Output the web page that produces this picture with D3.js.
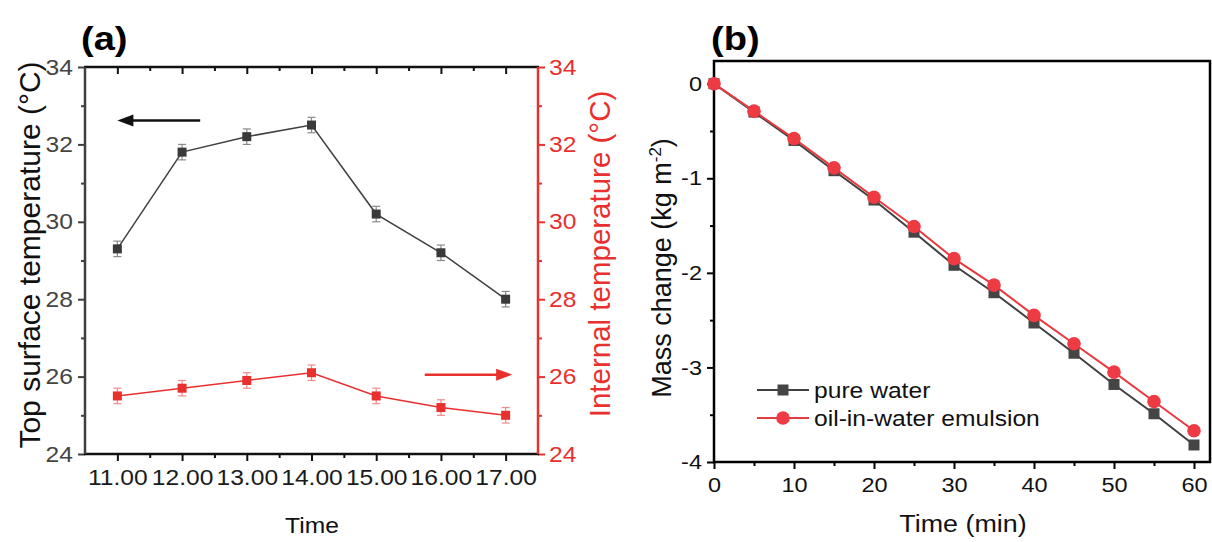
<!DOCTYPE html>
<html>
<head>
<meta charset="utf-8">
<script src="https://cdn.jsdelivr.net/npm/d3@7"></script>
<style>
  body { margin: 0; background: #fff; }
  svg { display: block; font-family: "Liberation Sans", Arial, sans-serif; }
</style>
</head>
<body>
<svg id="chart" width="1212" height="542"></svg>
<script>
// ---- panel (a): temperatures over the day ----
const hours = [11, 12, 13, 14, 15, 16, 17]
const surfaceTemp = [29.3, 31.8, 32.2, 32.5, 30.2, 29.2, 28.0]
const surfaceErr = [0.2, 0.2, 0.2, 0.2, 0.2, 0.2, 0.2]
const internalTemp = [25.5, 25.7, 25.9, 26.1, 25.5, 25.2, 25.0]
const internalErr = [0.2, 0.2, 0.2, 0.2, 0.2, 0.2, 0.2]
const tempTicks = [24, 26, 28, 30, 32, 34]
const tempMinor = [25, 27, 29, 31, 33]
const hourMinor = [11.5, 12.5, 13.5, 14.5, 15.5, 16.5]

// ---- panel (b): mass change ----
const minutes = [0, 5, 10, 15, 20, 25, 30, 35, 40, 45, 50, 55, 60]
const pureWater = [0, -0.30, -0.60, -0.92, -1.23, -1.57, -1.92, -2.21, -2.53, -2.85, -3.18, -3.49, -3.82]
const emulsion = [0, -0.29, -0.58, -0.89, -1.20, -1.51, -1.85, -2.13, -2.45, -2.75, -3.05, -3.36, -3.67]
const seriesNames = ['pure water', 'oil-in-water emulsion']
const minuteTicks = [0, 10, 20, 30, 40, 50, 60]
const minuteMinor = [5, 15, 25, 35, 45, 55]
const massTicks = [0, -1, -2, -3, -4]
const massMinor = [-0.5, -1.5, -2.5, -3.5]

const RED = '#e8302f'
const DARK = '#3f3f3f'
const SX = 1.12 // the figure's lettering is a bit wide
const svg = d3.select('#chart')

function styleAxis (g, color, textColor, fontSize) {
  g.select('.domain').remove()
  g.selectAll('line').attr('stroke', color).attr('stroke-width', 2)
  g.selectAll('text')
    .attr('fill', textColor)
    .style('font-size', fontSize + 'px')
    .attr('x', function () { return (+this.getAttribute('x') || 0) / SX })
    .attr('transform', `scale(${SX},1)`)
}

function wideText (g, x, y, size) {
  return g.append('text')
    .attr('transform', `translate(${x},${y}) scale(${SX},1)`)
    .style('font-size', size + 'px')
}

function errorBars (g, xs, ys, errs, x, y, color) {
  const bars = g.append('g').attr('stroke', color).attr('stroke-width', 1.2)
  xs.forEach((v, i) => {
    const cx = x(v)
    bars.append('line')
      .attr('x1', cx).attr('x2', cx)
      .attr('y1', y(ys[i] - errs[i])).attr('y2', y(ys[i] + errs[i]))
    ;[ys[i] - errs[i], ys[i] + errs[i]].forEach(e => {
      bars.append('line')
        .attr('x1', cx - 4).attr('x2', cx + 4)
        .attr('y1', y(e)).attr('y2', y(e))
    })
  })
}

function arrow (g, xa, xb, yy, color) {
  // line from xa to xb with head at xb
  const dir = Math.sign(xb - xa)
  const head = 16
  g.append('line')
    .attr('x1', xa).attr('x2', xb - dir * head + dir * 2)
    .attr('y1', yy).attr('y2', yy)
    .attr('stroke', color).attr('stroke-width', 2.5)
  g.append('path')
    .attr('d', `M${xb},${yy} L${xb - dir * head},${yy - 6} L${xb - dir * head},${yy + 6} Z`)
    .attr('fill', color)
}

// ================= panel (a) =================
{
  const x = d3.scaleLinear([10.5, 17.5], [85, 538])
  const yL = d3.scaleLinear([24, 34], [454, 67])
  const yR = d3.scaleLinear([24, 34], [454, 67])
  const g = svg.append('g')

  // minor ticks
  g.append('g').attr('transform', 'translate(0,454)')
    .call(d3.axisBottom(x).tickValues(hourMinor).tickSize(4).tickFormat(''))
    .call(a => styleAxis(a, '#111', '#111', 0))
  g.append('g').attr('transform', 'translate(0,67)')
    .call(d3.axisTop(x).tickValues(hourMinor).tickSize(-4).tickFormat(''))
    .call(a => styleAxis(a, '#111', '#111', 0))
  g.append('g').attr('transform', 'translate(85,0)')
    .call(d3.axisLeft(yL).tickValues(tempMinor).tickSize(4).tickFormat(''))
    .call(a => styleAxis(a, DARK, DARK, 0))
  g.append('g').attr('transform', 'translate(538,0)')
    .call(d3.axisRight(yR).tickValues(tempMinor).tickSize(4).tickFormat(''))
    .call(a => styleAxis(a, RED, RED, 0))

  // major ticks
  g.append('g').attr('transform', 'translate(0,454)')
    .call(d3.axisBottom(x).tickValues(hours).tickSize(7).tickPadding(8).tickFormat(d => d.toFixed(2)))
    .call(a => styleAxis(a, '#111', '#1a1a1a', 22))
  g.append('g').attr('transform', 'translate(0,67)')
    .call(d3.axisTop(x).tickValues(hours).tickSize(-7).tickFormat(''))
    .call(a => styleAxis(a, '#111', '#111', 0))
  g.append('g').attr('transform', 'translate(85,0)')
    .call(d3.axisLeft(yL).tickValues(tempTicks).tickSize(7).tickPadding(5))
    .call(a => styleAxis(a, DARK, '#444', 22))
  g.append('g').attr('transform', 'translate(538,0)')
    .call(d3.axisRight(yR).tickValues(tempTicks).tickSize(7).tickPadding(4))
    .call(a => styleAxis(a, RED, RED, 22))

  // frame
  g.append('line').attr('x1', 84).attr('x2', 539).attr('y1', 454).attr('y2', 454).attr('stroke', '#111').attr('stroke-width', 2.5)
  g.append('line').attr('x1', 84).attr('x2', 539).attr('y1', 67).attr('y2', 67).attr('stroke', '#111').attr('stroke-width', 2.5)
  g.append('line').attr('x1', 85).attr('x2', 85).attr('y1', 67).attr('y2', 454).attr('stroke', DARK).attr('stroke-width', 2.5)
  g.append('line').attr('x1', 538).attr('x2', 538).attr('y1', 67).attr('y2', 454).attr('stroke', RED).attr('stroke-width', 2.5)

  // surface series
  const lineL = d3.line().x((d, i) => x(hours[i])).y(d => yL(d))
  g.append('path').datum(surfaceTemp).attr('d', lineL)
    .attr('fill', 'none').attr('stroke', '#404040').attr('stroke-width', 1.5)
  errorBars(g, hours, surfaceTemp, surfaceErr, x, yL, '#8a8a8a')
  g.append('g').selectAll('rect').data(surfaceTemp).join('rect')
    .attr('x', (d, i) => x(hours[i]) - 4.5).attr('y', d => yL(d) - 4.5)
    .attr('width', 9).attr('height', 9).attr('fill', '#3a3a3a')

  // internal series
  const lineR = d3.line().x((d, i) => x(hours[i])).y(d => yR(d))
  g.append('path').datum(internalTemp).attr('d', lineR)
    .attr('fill', 'none').attr('stroke', RED).attr('stroke-width', 1.5)
  errorBars(g, hours, internalTemp, internalErr, x, yR, '#f08a8a')
  g.append('g').selectAll('rect').data(internalTemp).join('rect')
    .attr('x', (d, i) => x(hours[i]) - 4.5).attr('y', d => yR(d) - 4.5)
    .attr('width', 9).attr('height', 9).attr('fill', RED)

  // arrows telling which axis belongs to which curve
  arrow(g, x(12.28), x(11.0), yL(32.62), '#111')
  arrow(g, x(15.75), x(17.1), yR(26.05), RED)

  // titles
  wideText(g, 81, 50, 34).style('font-weight', 'bold').text('(a)')
  g.append('text').attr('transform', 'translate(40,255) rotate(-90)')
    .attr('text-anchor', 'middle').style('font-size', '30px').attr('fill', '#111')
    .text('Top surface temperature (°C)')
  g.append('text').attr('transform', 'translate(610,254) rotate(-90)')
    .attr('text-anchor', 'middle').style('font-size', '29.5px').attr('fill', RED)
    .text('Internal temperature (°C)')
  wideText(g, 312, 533, 22).attr('text-anchor', 'middle').attr('fill', '#111').text('Time')
}

// ================= panel (b) =================
{
  const x = d3.scaleLinear([0, 62], [714, 1210])
  const y = d3.scaleLinear([-4, 0.24], [462, 61])
  const g = svg.append('g')

  g.append('g').attr('transform', 'translate(0,462)')
    .call(d3.axisBottom(x).tickValues(minuteMinor).tickSize(4).tickFormat(''))
    .call(a => styleAxis(a, '#000', '#000', 0))
  g.append('g').attr('transform', 'translate(714,0)')
    .call(d3.axisLeft(y).tickValues(massMinor).tickSize(4).tickFormat(''))
    .call(a => styleAxis(a, '#000', '#000', 0))
  g.append('g').attr('transform', 'translate(0,462)')
    .call(d3.axisBottom(x).tickValues(minuteTicks).tickSize(7).tickPadding(8))
    .call(a => styleAxis(a, '#000', '#111', 21))
  g.append('g').attr('transform', 'translate(714,0)')
    .call(d3.axisLeft(y).tickValues(massTicks).tickSize(7).tickPadding(5).tickFormat(d => String(d)))
    .call(a => styleAxis(a, '#000', '#111', 21))

  g.append('rect').attr('x', 714).attr('y', 61).attr('width', 496).attr('height', 401)
    .attr('fill', 'none').attr('stroke', '#000').attr('stroke-width', 2.5)

  const line = d3.line().x((d, i) => x(minutes[i])).y(d => y(d))
  g.append('path').datum(pureWater).attr('d', line)
    .attr('fill', 'none').attr('stroke', '#404040').attr('stroke-width', 2)
  g.append('path').datum(emulsion).attr('d', line)
    .attr('fill', 'none').attr('stroke', '#e83a40').attr('stroke-width', 2)
  g.append('g').selectAll('rect').data(pureWater).join('rect')
    .attr('x', (d, i) => x(minutes[i]) - 5.5).attr('y', d => y(d) - 5.5)
    .attr('width', 11).attr('height', 11).attr('fill', '#454545')
  g.append('g').selectAll('circle').data(emulsion).join('circle')
    .attr('cx', (d, i) => x(minutes[i])).attr('cy', d => y(d))
    .attr('r', 6.8).attr('fill', '#ee3a42')

  // legend
  const leg = g.append('g').attr('transform', 'translate(757,390)')
  seriesNames.forEach((name, i) => {
    const row = leg.append('g').attr('transform', `translate(0,${i * 28})`)
    row.append('line').attr('x1', 0).attr('x2', 52).attr('stroke', i ? '#e83a40' : '#404040').attr('stroke-width', 2)
    if (i) row.append('circle').attr('cx', 26).attr('r', 6.8).attr('fill', '#ee3a42')
    else row.append('rect').attr('x', 20.5).attr('y', -5.5).attr('width', 11).attr('height', 11).attr('fill', '#454545')
    wideText(row, 57, 0, 22).attr('dy', '0.35em').attr('fill', '#111').text(name)
  })

  wideText(g, 711, 50, 34).style('font-weight', 'bold').text('(b)')
  const yt = g.append('text').attr('transform', 'translate(671,268) rotate(-90)')
    .attr('text-anchor', 'middle').style('font-size', '27px').attr('fill', '#111')
  yt.append('tspan').text('Mass change (kg m')
  yt.append('tspan').attr('dy', -10).style('font-size', '17px').text('-2')
  yt.append('tspan').attr('dy', 10).text(')')
  wideText(g, 963, 532, 24).attr('text-anchor', 'middle').attr('fill', '#111').text('Time (min)')
}
</script>
</body>
</html>
